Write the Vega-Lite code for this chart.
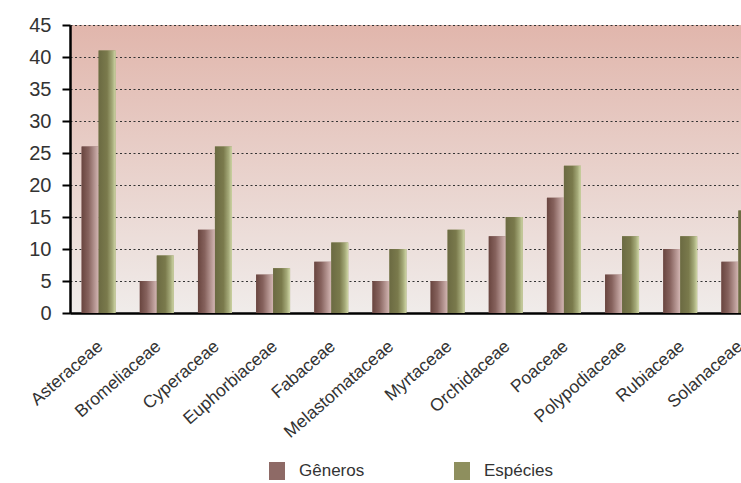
{
  "$schema": "https://vega.github.io/schema/vega-lite/v6.json",
  "width": 671,
  "height": 288,
  "autosize": "none",
  "padding": {"left": 70, "top": 25, "right": 0, "bottom": 170},
  "background": "white",
  "config": {
    "font": "Liberation Sans",
    "view": {
      "stroke": null,
      "fill": {"gradient": "linear", "x1": 0, "y1": 0, "x2": 0, "y2": 1,
        "stops": [{"offset": 0, "color": "#e1b6ac"}, {"offset": 1, "color": "#f0ecea"}]}
    }
  },
  "data": {
    "values": [
      {"familia": "Asteraceae", "serie": "Gêneros", "valor": 26},
      {"familia": "Asteraceae", "serie": "Espécies", "valor": 41},
      {"familia": "Bromeliaceae", "serie": "Gêneros", "valor": 5},
      {"familia": "Bromeliaceae", "serie": "Espécies", "valor": 9},
      {"familia": "Cyperaceae", "serie": "Gêneros", "valor": 13},
      {"familia": "Cyperaceae", "serie": "Espécies", "valor": 26},
      {"familia": "Euphorbiaceae", "serie": "Gêneros", "valor": 6},
      {"familia": "Euphorbiaceae", "serie": "Espécies", "valor": 7},
      {"familia": "Fabaceae", "serie": "Gêneros", "valor": 8},
      {"familia": "Fabaceae", "serie": "Espécies", "valor": 11},
      {"familia": "Melastomataceae", "serie": "Gêneros", "valor": 5},
      {"familia": "Melastomataceae", "serie": "Espécies", "valor": 10},
      {"familia": "Myrtaceae", "serie": "Gêneros", "valor": 5},
      {"familia": "Myrtaceae", "serie": "Espécies", "valor": 13},
      {"familia": "Orchidaceae", "serie": "Gêneros", "valor": 12},
      {"familia": "Orchidaceae", "serie": "Espécies", "valor": 15},
      {"familia": "Poaceae", "serie": "Gêneros", "valor": 18},
      {"familia": "Poaceae", "serie": "Espécies", "valor": 23},
      {"familia": "Polypodiaceae", "serie": "Gêneros", "valor": 6},
      {"familia": "Polypodiaceae", "serie": "Espécies", "valor": 12},
      {"familia": "Rubiaceae", "serie": "Gêneros", "valor": 10},
      {"familia": "Rubiaceae", "serie": "Espécies", "valor": 12},
      {"familia": "Solanaceae", "serie": "Gêneros", "valor": 8},
      {"familia": "Solanaceae", "serie": "Espécies", "valor": 16}
    ]
  },
  "encoding": {
    "x": {
      "field": "familia", "type": "nominal", "sort": null,
      "scale": {"range": [0, 697], "paddingInner": 0.416, "paddingOuter": 0.2},
      "axis": {
        "title": null, "labelAngle": -41, "labelFontSize": 17.5, "labelColor": "#333",
        "ticks": false, "domainColor": "black", "domainWidth": 2.5, "labelPadding": 24,
        "labelOffset": -4, "grid": false
      }
    },
    "xOffset": {"field": "serie", "type": "nominal", "scale": {"domain": ["Gêneros", "Espécies"], "paddingInner": 0, "paddingOuter": 0}},
    "y": {
      "field": "valor", "type": "quantitative",
      "scale": {"domain": [0, 45], "nice": false},
      "axis": {
        "title": null, "values": [0, 5, 10, 15, 20, 25, 30, 35, 40, 45],
        "labelFontSize": 20, "labelColor": "#333", "labelPadding": 11,
        "domainColor": "black", "domainWidth": 2.5,
        "tickColor": "black", "tickWidth": 2, "tickSize": 8,
        "grid": true, "gridColor": "#333", "gridDash": [2, 2.5], "gridWidth": 1
      }
    }
  },
  "layer": [
    {
      "mark": {"type": "bar"},
      "encoding": {
        "color": {
          "field": "serie", "type": "nominal",
          "scale": {"domain": ["Gêneros", "Espécies"], "range": ["#8e6a66", "#8e8f5e"]},
          "legend": {
            "title": null, "orient": "none", "legendX": 198, "legendY": 437,
            "direction": "horizontal", "columns": 2, "columnPadding": 88,
            "symbolType": "M-0.89,-1H0.89V1H-0.89Z", "symbolSize": 324, "symbolStrokeWidth": 0,
            "labelFontSize": 17, "labelColor": "#333", "labelOffset": 13
          }
        }
      }
    },
    {
      "mark": {"type": "bar"},
      "encoding": {
        "fill": {
          "condition": {"test": "datum.serie === 'Gêneros'", "value": {"gradient": "linear", "x1": 0, "y1": 0, "x2": 1, "y2": 0,
            "stops": [{"offset": 0, "color": "#69453f"}, {"offset": 0.4, "color": "#86625d"}, {"offset": 1, "color": "#d3b6b3"}]}},
          "value": {"gradient": "linear", "x1": 0, "y1": 0, "x2": 1, "y2": 0,
            "stops": [{"offset": 0, "color": "#6b6a42"}, {"offset": 0.5, "color": "#7a7a4c"}, {"offset": 0.8, "color": "#a4a978"}, {"offset": 1, "color": "#cfd6a6"}]}
        }
      }
    }
  ]
}
